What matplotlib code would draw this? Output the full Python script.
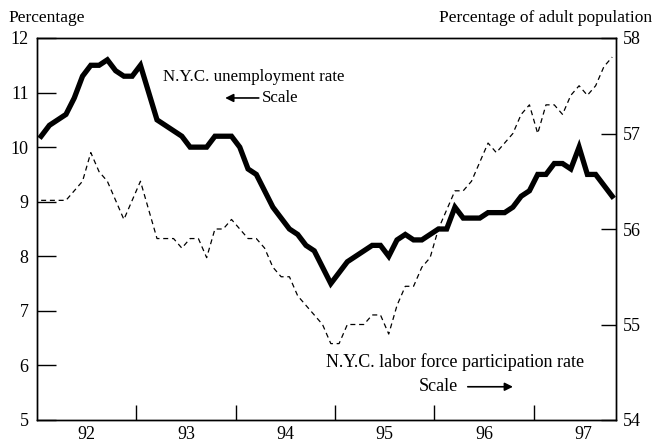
import numpy as np
import matplotlib
matplotlib.use("Agg")
import matplotlib.pyplot as plt

plt.rcParams['font.family'] = ['Liberation Serif', 'DejaVu Serif']

start_year = 1992
unemployment = [10.2, 10.4, 10.5, 10.6, 10.9, 11.3, 11.5, 11.5, 11.6, 11.4, 11.3, 11.3, 11.5,
                11.0, 10.5, 10.4, 10.3, 10.2, 10.0, 10.0, 10.0, 10.2, 10.2, 10.2, 10.0,
                9.6, 9.5, 9.2, 8.9, 8.7, 8.5, 8.4, 8.2, 8.1, 7.8, 7.5,
                7.7, 7.9, 8.0, 8.1, 8.2, 8.2, 8.0, 8.3, 8.4, 8.3, 8.3, 8.4,
                8.5, 8.5, 8.9, 8.7, 8.7, 8.7, 8.8, 8.8, 8.8, 8.9, 9.1, 9.2,
                9.5, 9.5, 9.7, 9.7, 9.6, 10.0, 9.5, 9.5, 9.3, 9.1]
participation = [56.3, 56.3, 56.3, 56.3, 56.4, 56.5, 56.8, 56.6, 56.5, 56.3, 56.1, 56.3, 56.5,
                 56.2, 55.9, 55.9, 55.9, 55.8, 55.9, 55.9, 55.7, 56.0, 56.0, 56.1, 56.0,
                 55.9, 55.9, 55.8, 55.6, 55.5, 55.5, 55.3, 55.2, 55.1, 55.0, 54.8,
                 54.8, 55.0, 55.0, 55.0, 55.1, 55.1, 54.9, 55.2, 55.4, 55.4, 55.6, 55.7,
                 56.0, 56.2, 56.4, 56.4, 56.5, 56.7, 56.9, 56.8, 56.9, 57.0, 57.2, 57.3,
                 57.0, 57.3, 57.3, 57.2, 57.4, 57.5, 57.4, 57.5, 57.7, 57.8]
year_labels = ['92', '93', '94', '95', '96', '97']

x = start_year + (np.arange(len(unemployment)) + 0.5) / 12.0

FS = 13
HFS = 12.5
AFS = 12.2

fig = plt.figure(figsize=(6.57, 4.43), dpi=100)
ax = fig.add_axes([37/657, 1-420/443, (616-37)/657, (420-38)/443])
ax2 = ax.twinx()

ax.plot(x, unemployment, color='black', lw=3.8, solid_joinstyle='miter', zorder=3)
ax2.plot(x, participation, color='black', lw=0.9, ls=(0, (4, 3)))

ax.set_xlim(1992, 1997.83)
ax.set_ylim(5, 12)
ax2.set_ylim(54, 58)

ax.set_yticks(range(5, 13))
ax2.set_yticks(range(54, 59))
ax.tick_params(axis='y', direction='in', length=14, width=1, labelsize=FS, pad=6)
ax2.tick_params(axis='y', direction='in', length=11, width=1, labelsize=FS, pad=5)

ax.set_xticks([1993, 1994, 1995, 1996, 1997])
ax.set_xticklabels([])
ax.set_xticks([1992.5 + k for k in range(len(year_labels))], minor=True)
ax.set_xticklabels(year_labels, minor=True)
ax.tick_params(axis='x', which='major', direction='in', length=11, width=1)
ax.tick_params(axis='x', which='minor', length=0, labelsize=FS, pad=4)

for a in (ax, ax2):
    for s in a.spines.values():
        s.set_linewidth(1.0)
        s.set_color('black')

fig.text(8/657, 1-18/443, 'Percentage', ha='left', va='center', fontsize=HFS)
fig.text(652/657, 1-18/443, 'Percentage of adult population', ha='right', va='center', fontsize=HFS)

ax.text(0.2176, 0.898, 'N.Y.C. unemployment rate', transform=ax.transAxes, fontsize=AFS,
        ha='left', va='center')
ax.annotate('', xy=(0.325, 0.843), xytext=(0.383, 0.843), xycoords='axes fraction',
            arrowprops=dict(arrowstyle='-|>', color='black', lw=1.2, mutation_scale=12,
                            shrinkA=0, shrinkB=0))
ax.text(0.3886, 0.843, 'Scale', transform=ax.transAxes, fontsize=AFS, ha='left', va='center')

ax.text(0.5, 0.1526, 'N.Y.C. labor force participation rate', transform=ax.transAxes,
        fontsize=FS, ha='left', va='center')
ax.text(0.66, 0.087, 'Scale', transform=ax.transAxes, fontsize=FS, ha='left', va='center')
ax.annotate('', xy=(0.822, 0.087), xytext=(0.744, 0.087), xycoords='axes fraction',
            arrowprops=dict(arrowstyle='-|>', color='black', lw=1.2, mutation_scale=12,
                            shrinkA=0, shrinkB=0))

fig.savefig('out.png', dpi=100)
